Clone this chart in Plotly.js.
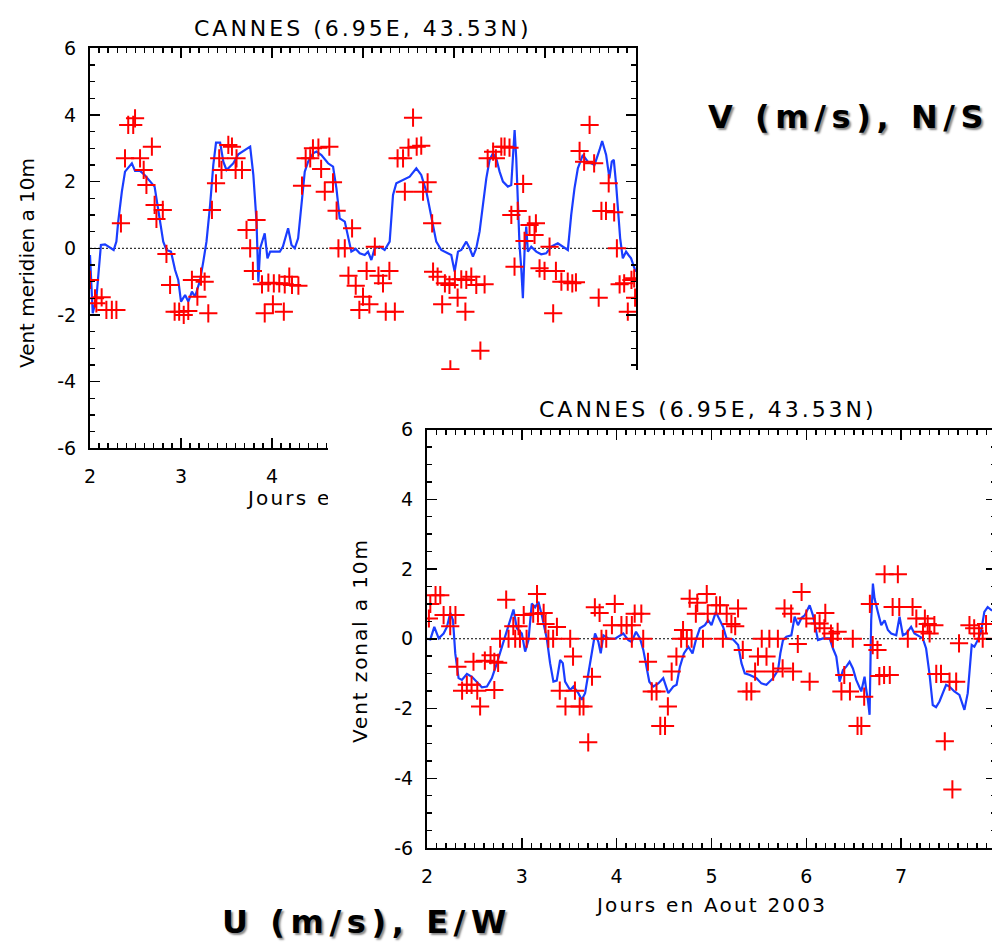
<!DOCTYPE html>
<html>
<head>
<meta charset="utf-8">
<script src="https://cdn.plot.ly/plotly-3.0.1.min.js"></script>
<style>
html,body{margin:0;padding:0;overflow:hidden;background:#fff}
#chart{width:1000px;height:942px}
</style>
</head>
<body>
<div id="chart"></div>
<script>
// ---------- DATA ----------
const xTickVals = [2, 3, 4, 5, 6, 7, 8];
const xTickText = ['2', '3', '4', '5', '6', '7', '8'];
const yTickVals = [-6, -4, -2, 0, 2, 4, 6];
const yTickText = ['-6', '-4', '-2', '0', '2', '4', '6'];

const plotTitle = 'CANNES (6.95E, 43.53N)';
const xTitle = 'Jours en Aout 2003';
const yTitleV = 'Vent meridien a 10m';
const yTitleU = 'Vent zonal a 10m';
const labelV = 'V (m/s), N/S';
const labelU = 'U (m/s), E/W';

// meridional wind: observations (crosses)
const vObsX = [2.00,2.055,2.07,2.128,2.18,2.24,2.29,2.34,2.385,2.42,2.475,2.495,2.55,2.59,2.62,2.68,2.71,2.73,2.80,2.84,2.88,2.93,2.98,3.03,3.08,3.12,3.18,3.22,3.26,3.30,3.34,3.385,3.42,3.445,3.52,3.56,3.60,3.61,3.67,3.72,3.76,3.79,3.83,3.89,3.92,3.96,
4.01,4.02,4.08,4.13,4.14,4.19,4.22,4.29,4.33,4.37,4.42,4.45,4.51,4.54,4.58,4.63,4.67,4.71,4.73,4.80,4.84,4.88,4.92,4.96,5.00,5.04,5.07,5.13,5.17,5.22,5.25,5.29,5.35,5.38,5.44,5.46,5.50,5.55,5.59,5.64,5.66,5.71,5.76,5.77,5.82,5.87,5.90,5.95,5.96,6.01,6.04,
6.08,6.125,6.135,6.19,6.245,6.29,6.336,6.37,6.43,6.46,6.52,6.556,6.61,6.63,6.665,6.70,6.76,6.775,6.83,6.885,6.90,6.94,6.995,7.05,7.09,7.12,7.18,7.25,7.30,7.34,7.38,7.43,7.49,7.54,7.59,7.62,7.67,7.70,7.76,7.79,7.82,7.87,7.91,7.95,7.98,7.99];
const vObsY = [-0.95,-1.5,-1.65,-1.47,-1.85,-1.85,-1.85,0.75,2.7,3.7,3.7,3.9,2.7,2.35,1.9,3.05,1.3,0.88,1.15,-0.17,-1.1,-1.9,-1.9,-2.0,-1.88,-0.95,-1.45,-0.85,-1.0,-1.95,1.15,1.95,2.7,2.35,3.1,3.05,2.35,2.7,2.35,0.55,0.0,-0.68,0.85,-1.08,-1.95,-1.03,
-1.68,-1.05,-1.05,-1.9,-1.08,-0.85,-1.1,-1.12,1.88,2.7,2.7,3.0,3.02,2.38,1.7,3.05,1.98,1.13,0.0,0.0,-0.82,0.6,-1.12,-1.85,-1.45,-0.68,-1.68,0.05,-0.82,-1.05,-1.9,-0.68,-1.9,2.7,2.7,1.7,3.02,3.92,3.05,3.08,1.7,1.98,0.75,-0.7,-0.85,-1.68,-1.05,-1.1,-3.63,-0.93,-1.48,
-0.93,-1.9,-0.95,-0.85,-1.1,-3.07,-1.08,2.7,2.9,2.7,3.05,3.05,3.02,1.0,-0.55,1.12,1.93,0.22,0.7,0.4,0.75,-0.6,-0.68,0.05,-1.95,-0.68,-1.0,-1.0,-1.05,-1.02,2.92,2.6,3.7,2.55,-1.48,1.12,1.12,1.95,1.08,0.0,-1.08,-1.05,-1.9,-0.95,-0.9,-1.48];

// meridional wind: model (line)
const vModX = [2.00,2.03,2.07,2.12,2.165,2.26,2.29,2.31,2.35,2.385,2.46,2.495,2.55,2.60,2.71,2.76,2.805,2.84,2.89,2.935,2.97,3.0,3.045,3.08,3.12,3.155,3.21,3.245,3.28,3.32,3.355,3.385,3.43,3.465,3.50,3.575,3.63,3.76,3.795,3.83,3.85,3.87,3.895,3.92,3.95,3.98,
4.03,4.086,4.12,4.177,4.214,4.25,4.287,4.324,4.36,4.397,4.452,4.488,4.543,4.616,4.671,4.708,4.744,4.80,4.836,4.872,4.92,4.964,5.019,5.055,5.092,5.128,5.183,5.238,5.293,5.33,5.366,5.44,5.513,5.586,5.64,5.696,5.732,5.769,5.805,5.86,5.934,5.97,6.007,
6.044,6.08,6.135,6.172,6.208,6.245,6.281,6.318,6.355,6.391,6.428,6.464,6.501,6.538,6.592,6.629,6.647,6.666,6.684,6.702,6.72,6.739,6.757,6.775,6.794,6.812,6.849,6.904,6.958,7.013,7.068,7.141,7.196,7.251,7.288,7.324,7.361,7.416,7.47,7.544,7.599,7.628,7.672,7.708,7.734,7.756,7.782,7.80,7.826,7.855,7.891,7.917,7.946,7.983,8.0];
const vModY = [-0.2,-1.95,-1.5,0.1,0.12,-0.05,0.2,0.8,1.7,2.3,2.55,2.32,2.32,2.2,1.85,1.0,0.2,-0.05,-0.1,-0.65,-0.95,-1.6,-1.4,-1.6,-1.3,-1.45,-0.95,-0.4,0.2,1.3,2.5,3.17,3.17,2.6,2.35,2.55,2.82,3.05,2.2,0.8,-1.0,0.0,0.2,0.45,-0.3,-0.1,
-0.1,-0.1,0.05,0.6,0.1,0.0,0.3,1.4,2.3,2.6,2.85,2.9,2.8,2.55,2.45,1.8,0.9,0.8,0.3,-0.1,-0.02,-0.15,-0.2,-0.1,-0.35,0.0,0.05,-0.05,0.2,1.6,1.95,2.05,2.15,2.4,2.2,1.7,1.2,0.7,0.2,-0.05,-0.15,-0.2,-0.7,
-0.1,-0.05,0.2,0.0,-0.25,0.0,0.5,1.3,2.1,2.65,2.85,2.7,2.3,2.0,1.85,1.9,2.6,3.55,2.7,1.4,0.1,-0.6,-1.5,-0.1,0.65,-0.1,0.05,-0.1,-0.18,-0.15,0.05,0.15,0.05,-0.05,1.0,1.8,2.4,2.8,2.6,2.5,2.95,3.22,2.8,2.1,2.6,2.65,1.9,1.1,0.3,-0.3,-0.1,-0.2,-0.3,-0.6,-0.7];

// zonal wind: observations (crosses)
const uObsX = [2.02,2.035,2.09,2.14,2.175,2.245,2.245,2.30,2.32,2.37,2.42,2.47,2.49,2.53,2.56,2.61,2.67,2.71,2.71,2.75,2.77,2.835,2.86,2.91,2.93,2.965,2.98,3.02,3.05,3.12,3.16,3.17,3.23,3.25,3.28,3.33,3.37,3.40,3.46,3.51,3.54,3.56,3.61,3.65,3.70,3.74,3.77,3.82,3.84,3.89,3.95,
3.98,4.05,4.105,4.16,4.16,4.19,4.26,4.28,4.33,4.37,4.42,4.46,4.51,4.54,4.58,4.63,4.68,4.70,4.74,4.77,4.79,4.835,4.85,4.91,4.95,4.96,5.05,5.09,5.12,5.16,5.21,5.25,5.28,5.33,5.37,5.42,5.46,5.49,5.53,5.58,5.61,5.65,5.70,5.75,5.77,5.84,5.86,5.91,5.95,
6.0,6.035,6.09,6.14,6.19,6.20,6.26,6.28,6.33,6.37,6.40,6.46,6.49,6.54,6.58,6.61,6.67,6.70,6.75,6.77,6.82,6.825,6.88,6.91,6.965,6.98,7.07,7.12,7.16,7.23,7.25,7.28,7.30,7.35,7.37,7.42,7.46,7.51,7.54,7.58,7.61,7.72,7.77,7.82,7.86,7.895];
const uObsY = [0.58,1.0,1.25,1.25,0.68,0.68,0.36,0.68,-0.8,-1.49,-1.32,-1.32,-0.66,-1.49,-1.94,-0.63,-0.47,-0.66,-1.47,-0.69,0.0,1.12,0.0,0.36,0.0,0.36,0.0,0.68,0.0,0.72,1.28,0.72,0.74,0.42,0.0,0.0,0.34,-1.49,-1.94,0.0,-0.51,-1.49,-1.94,-1.94,-2.97,-1.09,0.9,0.74,0.0,0.0,0.39,
1.0,0.39,0.39,0.39,0.0,0.72,0.72,0.0,-0.66,-1.51,-1.51,-2.5,-2.5,-1.94,-0.94,-0.51,0.0,0.25,0.0,1.15,0.0,0.72,1.03,0.0,1.28,0.72,0.96,0.96,0.0,0.72,0.42,0.36,0.87,-0.32,-1.51,-1.51,-0.94,-0.51,0.0,-0.51,0.0,-0.94,0.0,-0.85,0.87,0.72,-0.94,-0.15,1.34,
0.58,-1.23,0.44,0.44,0.3,0.74,0.15,0.0,0.2,-1.51,-1.04,-1.51,0.0,-2.5,-2.5,-1.66,1.0,-0.18,-0.32,-1.07,-1.04,1.85,-1.04,0.91,1.85,0.91,0.0,0.91,0.58,0.2,0.58,0.42,0.15,0.39,-1.01,-1.01,-2.94,-1.23,-4.32,-1.23,-0.13,0.39,0.3,0.15,0.0,0.42];

// zonal wind: model (line)
const uModX = [2.0,2.035,2.077,2.123,2.175,2.21,2.246,2.274,2.298,2.333,2.368,2.421,2.474,2.526,2.579,2.632,2.684,2.737,2.789,2.842,2.912,2.947,3.0,3.035,3.07,3.105,3.14,3.175,3.21,3.263,3.298,3.333,3.368,3.404,3.432,3.456,3.509,3.544,3.596,3.632,3.667,3.702,3.737,3.772,3.807,3.832,3.86,3.912,
3.983,4.035,4.07,4.123,4.158,4.204,4.246,4.281,4.316,4.344,4.386,4.439,4.491,4.544,4.597,4.632,4.667,4.709,4.755,4.8,4.835,4.877,4.93,4.965,5.0,5.046,5.07,5.123,5.158,5.228,5.281,5.316,5.351,5.404,5.474,5.526,5.579,5.649,5.702,5.726,5.754,5.79,5.842,5.877,5.912,
5.95,5.983,6.035,6.07,6.105,6.123,6.176,6.246,6.281,6.316,6.351,6.386,6.421,6.456,6.491,6.526,6.579,6.614,6.632,6.649,6.667,6.684,6.702,6.719,6.754,6.79,6.825,6.86,6.895,6.948,6.983,7.018,7.053,7.105,7.14,7.193,7.228,7.263,7.298,7.333,7.368,7.404,7.439,7.474,7.509,7.561,7.614,7.667,7.702,7.719,7.744,7.772,7.807,7.842,7.877,7.912,7.951,8.0];
const uModY = [0.0,-0.02,0.34,0.01,0.15,0.34,0.74,0.53,-0.42,-1.13,-1.18,-1.01,-1.09,-1.23,-1.39,-1.37,-1.13,-0.70,-0.23,0.25,0.84,0.30,0.15,-0.37,-0.04,1.01,0.9,1.06,0.68,0.01,-0.70,-1.23,-1.2,-0.61,-0.70,-1.23,-1.47,-1.37,-1.56,-1.75,-1.56,-0.99,-0.42,0.15,-0.09,-0.42,0.1,0.01,
0.0,0.10,0.15,-0.04,-0.09,0.20,0.01,-0.32,-0.80,-1.23,-1.37,-1.28,-1.13,-1.56,-1.37,-1.32,-0.80,-0.42,-0.23,-0.42,-0.04,0.30,0.39,0.53,0.39,0.77,0.63,0.34,0.01,-0.02,-0.18,-0.70,-0.99,-1.04,-1.13,-1.28,-1.32,-1.13,-0.90,-0.42,-0.04,0.06,0.1,0.63,0.39,
0.6,0.67,0.96,0.67,0.15,-0.04,0.01,0.01,-0.28,-0.51,-1.23,-0.90,-0.80,-0.66,-0.85,-1.18,-1.51,-1.09,-1.47,-1.75,-2.18,0.53,1.58,1.16,0.77,0.39,0.53,0.25,0.15,0.1,0.63,0.1,0.15,0.34,0.15,0.08,0.01,-0.28,-0.99,-1.90,-1.96,-1.80,-1.56,-1.32,-1.37,-1.51,-1.61,-2.04,-1.56,-0.99,-0.18,-0.23,-0.04,0.20,0.77,0.91,0.82,0.85];

// ---------- STYLE / LAYOUT ----------
const W = 1000, H = 942;
const px = v => v / W;
const py = v => 1 - v / H;
const FONT = 'DejaVu Sans';
const lineBlue = '#1a3dff';
const crossRed = '#ff0000';
const sp = (t, ls) => '<span style="letter-spacing:' + ls + 'px">' + t + '</span>';

function axisBase(extra) {
  return Object.assign({
    showline: true, linecolor: 'black', linewidth: 2, mirror: 'allticks',
    ticks: 'inside', ticklen: 10, tickwidth: 1.5, tickcolor: 'black',
    showgrid: false, zeroline: false, fixedrange: true,
    tickfont: {family: FONT, size: 19, color: 'black'},
    range: [-6, 6], tickmode: 'array'
  }, extra);
}
const xa = (dom, anc) => axisBase({domain: dom, anchor: anc, range: [2, 8], tickvals: xTickVals, ticktext: xTickText,
  ticklabelstandoff: 10,
  minor: {tickmode: 'linear', tick0: 2, dtick: 0.1, ticks: 'inside', ticklen: 5, tickwidth: 1.5, tickcolor: 'black', showgrid: false}});
const ya = (dom, anc) => axisBase({domain: dom, anchor: anc, tickvals: yTickVals, ticktext: yTickText,
  ticklabelstandoff: 8,
  minor: {tickmode: 'linear', tick0: 0, dtick: 0.5, ticks: 'inside', ticklen: 5, tickwidth: 1.5, tickcolor: 'black', showgrid: false}});

const hidden = (dom, anc) => ({domain: dom, anchor: anc, range: [0, 1], showline: false, showticklabels: false,
  ticks: '', showgrid: false, zeroline: false, fixedrange: true});

const crossMarker = {symbol: 'cross-thin', size: 13, color: crossRed, line: {width: 2, color: crossRed}};

const data = [
  // top panel (meridional) : subplot xy
  {type: 'scatter', mode: 'lines', x: vModX, y: vModY, xaxis: 'x', yaxis: 'y',
   line: {color: lineBlue, width: 2.2}, hoverinfo: 'skip'},
  {type: 'scatter', mode: 'markers', x: vObsX, y: vObsY, xaxis: 'x', yaxis: 'y',
   marker: crossMarker, hoverinfo: 'skip'},
  // x-axis title of the top panel (subplot x2y2, a strip under that panel; the lower panel hides most of it)
  {type: 'scatter', mode: 'text', x: [0.5], y: [0.5], xaxis: 'x2', yaxis: 'y2', cliponaxis: false,
   text: [sp(xTitle, 2.2)], textposition: 'middle center',
   textfont: {family: FONT, size: 20, color: 'black'}, hoverinfo: 'skip'},
  // white sheet of the lower panel (subplot x3y3)
  {type: 'scatter', mode: 'markers', x: [], y: [], xaxis: 'x3', yaxis: 'y3', hoverinfo: 'skip'},
  // bottom panel (zonal) : subplot x4y4
  {type: 'scatter', mode: 'lines', x: uModX, y: uModY, xaxis: 'x4', yaxis: 'y4',
   line: {color: lineBlue, width: 2.2}, hoverinfo: 'skip'},
  {type: 'scatter', mode: 'markers', x: uObsX, y: uObsY, xaxis: 'x4', yaxis: 'y4',
   marker: crossMarker, hoverinfo: 'skip'}
];

const ann = (text, x, y, size, extra) => Object.assign({
  text: text, x: px(x), y: py(y), xref: 'paper', yref: 'paper', showarrow: false,
  xanchor: 'center', yanchor: 'middle', font: {family: FONT, size: size, color: 'black'}
}, extra || {});

const boldFont = {family: FONT, size: 32, color: 'black', weight: 'bold', shadow: '2px 2px 2px #8a8a8a'};

const layout = {
  width: W, height: H,
  margin: {l: 0, r: 0, t: 0, b: 0},
  paper_bgcolor: 'white', plot_bgcolor: 'white',
  showlegend: false,
  font: {family: FONT, color: 'black'},
  xaxis: xa([px(90), px(636)], 'y'),
  yaxis: ya([py(448.3), py(48.3)], 'x'),
  xaxis2: hidden([px(90), px(636)], 'y2'),
  yaxis2: hidden([py(508), py(492)], 'x2'),
  xaxis3: hidden([px(328), 1], 'y3'),
  yaxis3: hidden([0, py(370)], 'x3'),
  xaxis4: xa([px(427), px(996)], 'y4'),
  yaxis4: ya([py(848), py(429.5)], 'x4'),
  shapes: [
    {type: 'line', xref: 'x', yref: 'y', x0: 2, x1: 8, y0: 0, y1: 0, layer: 'below',
     line: {color: 'black', width: 1, dash: '2px,2px'}},
    {type: 'line', xref: 'x4', yref: 'y4', x0: 2, x1: 8, y0: 0, y1: 0, layer: 'below',
     line: {color: 'black', width: 1, dash: '2px,2px'}}
  ],
  annotations: [
    ann(sp(plotTitle, 3), 363, 29, 22),
    ann(sp(plotTitle, 3), 708, 409, 22),
    ann(yTitleV, 27, 263, 20, {textangle: -90}),
    ann(sp(yTitleU, 1.9), 360, 641, 20, {textangle: -90}),
    ann(sp(xTitle, 2.2), 711, 905, 20),
    ann(sp(labelV, 5.6), 706, 117, 32, {xanchor: 'left', font: boldFont}),
    ann(sp(labelU, 5.6), 220, 922, 32, {xanchor: 'left', font: boldFont})
  ]
};

Plotly.newPlot('chart', data, layout, {staticPlot: true, displayModeBar: false});
</script>
</body>
</html>
